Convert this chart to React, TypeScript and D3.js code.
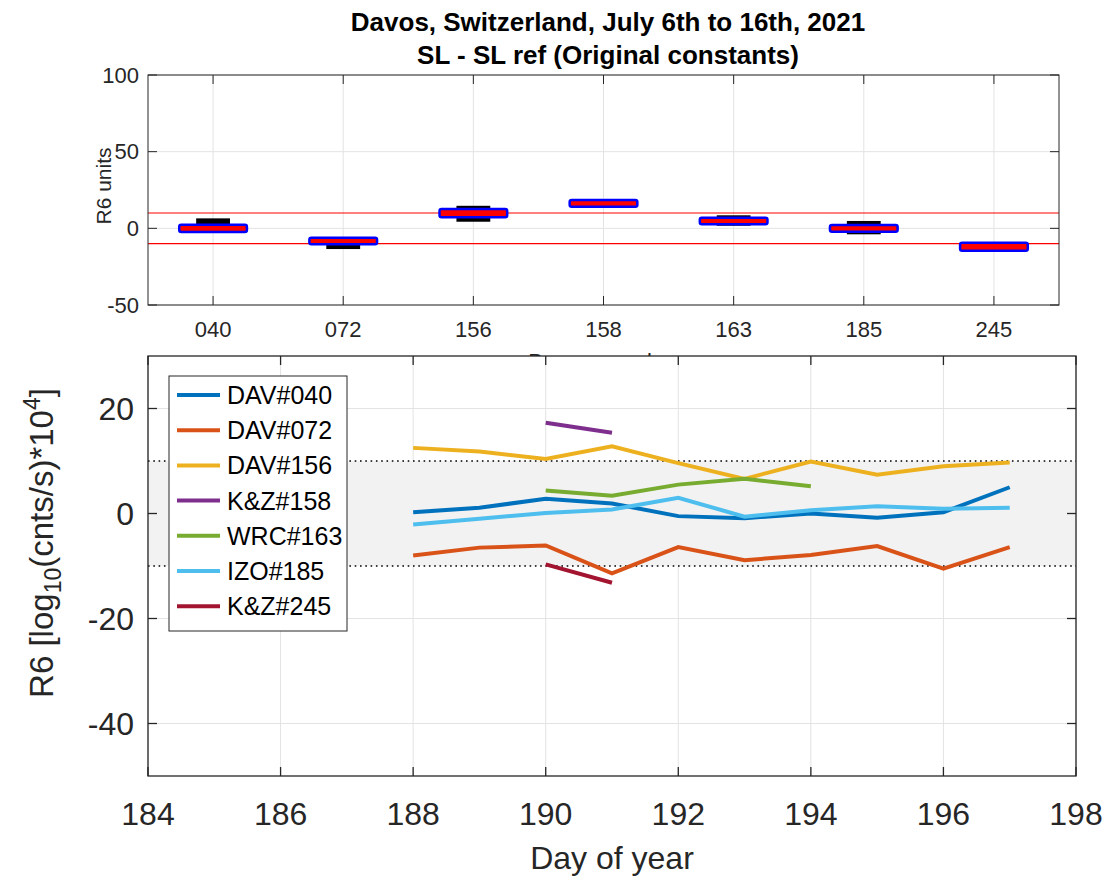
import React from "react";
import * as d3 from "d3";

// ---------- Top panel data ----------
const brewers = ["040", "072", "156", "158", "163", "185", "245"];
const boxLow = [-2.4, -10.4, 7.2, 14.1, 2.6, -2.2, -14.6];
const boxHigh = [2.4, -6.1, 12.6, 18.5, 6.9, 2.2, -9.4];
const barLow = [-1, -13.5, 4.3, 15, 1.7, -3.9, -13];
const barHigh = [6.5, -8, 14.7, 17, 8.5, 4.8, -10];
const topYTicks = [-50, 0, 50, 100];
const limitLines = [-10, 10];

// ---------- Bottom panel data ----------
const seriesNames = ["DAV#040", "DAV#072", "DAV#156", "K&Z#158", "WRC#163", "IZO#185", "K&Z#245"];
const seriesColors = ["#0072BD", "#D95319", "#EDB120", "#7E2F8E", "#77AC30", "#4DBEEE", "#A2142F"];
const daysFull = [188, 189, 190, 191, 192, 193, 194, 195, 196, 197];
const dav040 = [0.25, 1.1, 2.8, 1.9, -0.5, -0.9, 0, -0.8, 0.25, 5.0];
const dav072 = [-8.0, -6.5, -6.1, -11.4, -6.4, -8.9, -7.9, -6.2, -10.5, -6.4];
const dav156 = [12.5, 11.8, 10.4, 12.8, 9.6, 6.6, 9.9, 7.4, 9.0, 9.7];
const kz158Days = [190, 191];
const kz158 = [17.3, 15.4];
const wrc163Days = [190, 191, 192, 193, 194];
const wrc163 = [4.4, 3.4, 5.5, 6.6, 5.2];
const izo185 = [-2.1, -1.0, 0.1, 0.75, 3.0, -0.6, 0.6, 1.4, 0.9, 1.1];
const kz245Days = [190, 191];
const kz245 = [-9.7, -13.2];
const botXTicks = [184, 186, 188, 190, 192, 194, 196, 198];
const botYTicks = [-40, -20, 0, 20];

const FONT = "'Liberation Sans', Arial, Helvetica, sans-serif";
const AX = "#262626";
const GRID = "#e3e3e3";

export default function App() {
  // top scales
  const tx = d3.scaleBand<string>().domain(brewers).range([148, 1059]).paddingInner(0).paddingOuter(0);
  const bw = tx.bandwidth();
  const cx = (c: string) => (tx(c) as number) + bw / 2;
  const ty = d3.scaleLinear().domain([-50, 100]).range([305, 75]);

  // bottom scales
  const bx = d3.scaleLinear().domain([184, 198]).range([148, 1076]);
  const by = d3.scaleLinear().domain([-50, 30]).range([776, 356]);

  const seriesData: { days: number[]; vals: number[] }[] = [
    { days: daysFull, vals: dav040 },
    { days: daysFull, vals: dav072 },
    { days: daysFull, vals: dav156 },
    { days: kz158Days, vals: kz158 },
    { days: wrc163Days, vals: wrc163 },
    { days: daysFull, vals: izo185 },
    { days: kz245Days, vals: kz245 },
  ];
  const line = d3
    .line<[number, number]>()
    .x((d) => bx(d[0]))
    .y((d) => by(d[1]));

  const [tx0, tx1] = tx.range();
  const [ty0, ty1] = ty.range();
  const [bx0, bx1] = bx.range();
  const [by0, by1] = by.range();

  return (
    <svg width={1109} height={879} style={{ position: "absolute", left: 0, top: 0, background: "#fff" }} fontFamily={FONT}>
      <rect x={0} y={0} width={1109} height={879} fill="#fff" />
      {/* Title */}
      <text x={608} y={31} textAnchor="middle" fontSize={26} fontWeight="bold" fill="#000">
        Davos, Switzerland, July 6th to 16th, 2021
      </text>
      <text x={608} y={64} textAnchor="middle" fontSize={26} fontWeight="bold" fill="#000">
        SL - SL ref (Original constants)
      </text>

      {/* ---------- Top axes ---------- */}
      <rect x={tx0} y={ty1} width={tx1 - tx0} height={ty0 - ty1} fill="#fff" />
      {brewers.map((c) => (
        <line key={"gx" + c} x1={cx(c)} x2={cx(c)} y1={ty0} y2={ty1} stroke={GRID} strokeWidth={1} />
      ))}
      {topYTicks.map((t) => (
        <line key={"gy" + t} x1={tx0} x2={tx1} y1={ty(t)} y2={ty(t)} stroke={GRID} strokeWidth={1} />
      ))}
      {limitLines.map((v) => (
        <line key={"lim" + v} x1={tx0} x2={tx1} y1={ty(v)} y2={ty(v)} stroke="#ff0000" strokeWidth={1.2} />
      ))}
      {brewers.map((c, i) => (
        <g key={"box" + c}>
          <rect
            x={cx(c) - bw * 0.13}
            width={bw * 0.26}
            y={ty(barHigh[i])}
            height={ty(barLow[i]) - ty(barHigh[i])}
            fill="#000"
          />
          <rect
            x={cx(c) - bw * 0.26}
            width={bw * 0.52}
            y={ty(boxHigh[i])}
            height={ty(boxLow[i]) - ty(boxHigh[i])}
            fill="#ff0000"
            stroke="#0000ff"
            strokeWidth={2.5}
            rx={2}
          />
        </g>
      ))}
      {/* top axis box + ticks */}
      <rect x={tx0} y={ty1} width={tx1 - tx0} height={ty0 - ty1} fill="none" stroke={AX} strokeWidth={1} />
      {brewers.map((c) => (
        <g key={"tk" + c}>
          <line x1={cx(c)} x2={cx(c)} y1={ty0} y2={ty0 - 9} stroke={AX} />
          <line x1={cx(c)} x2={cx(c)} y1={ty1} y2={ty1 + 9} stroke={AX} />
          <text x={cx(c)} y={337} textAnchor="middle" fontSize={22} fill={AX}>
            {c}
          </text>
        </g>
      ))}
      {topYTicks.map((t) => (
        <g key={"tyk" + t}>
          <line x1={tx0} x2={tx0 + 9} y1={ty(t)} y2={ty(t)} stroke={AX} />
          <line x1={tx1} x2={tx1 - 9} y1={ty(t)} y2={ty(t)} stroke={AX} />
          <text x={139} y={ty(t)} dy="0.35em" textAnchor="end" fontSize={22} fill={AX}>
            {t}
          </text>
        </g>
      ))}
      <text transform={`translate(111,${(ty0 + ty1) / 2 - 4}) rotate(-90)`} textAnchor="middle" fontSize={21} fill={AX}>
        R6 units
      </text>
      <text x={(tx0 + tx1) / 2} y={369} textAnchor="middle" fontSize={22} fill={AX}>
        Brewer number
      </text>

      {/* ---------- Bottom axes ---------- */}
      <rect x={bx0} y={by1} width={bx1 - bx0} height={by0 - by1} fill="#fff" />
      {botXTicks.map((t) => (
        <line key={"bgx" + t} x1={bx(t)} x2={bx(t)} y1={by0} y2={by1} stroke={GRID} strokeWidth={1} />
      ))}
      {botYTicks.map((t) => (
        <line key={"bgy" + t} x1={bx0} x2={bx1} y1={by(t)} y2={by(t)} stroke={GRID} strokeWidth={1} />
      ))}
      <rect x={bx0} y={by(10)} width={bx1 - bx0} height={by(-10) - by(10)} fill="#f2f2f2" />
      {limitLines.map((v) => (
        <line
          key={"dot" + v}
          x1={bx0}
          x2={bx1}
          y1={by(v)}
          y2={by(v)}
          stroke="#000"
          strokeWidth={1.6}
          strokeDasharray="1.6 3.7"
        />
      ))}
      {seriesData.map((s, i) => (
        <path
          key={"ser" + i}
          d={line(s.days.map((d, j) => [d, s.vals[j]] as [number, number])) || ""}
          fill="none"
          stroke={seriesColors[i]}
          strokeWidth={4}
          strokeLinejoin="miter"
        />
      ))}
      <rect x={bx0} y={by1} width={bx1 - bx0} height={by0 - by1} fill="none" stroke={AX} strokeWidth={1.3} />
      {botXTicks.map((t) => (
        <g key={"bxt" + t}>
          <line x1={bx(t)} x2={bx(t)} y1={by0} y2={by0 - 9} stroke={AX} strokeWidth={1.3} />
          <line x1={bx(t)} x2={bx(t)} y1={by1} y2={by1 + 9} stroke={AX} strokeWidth={1.3} />
          <text x={bx(t)} y={825} textAnchor="middle" fontSize={32} fill={AX}>
            {t}
          </text>
        </g>
      ))}
      {botYTicks.map((t) => (
        <g key={"byt" + t}>
          <line x1={bx0} x2={bx0 + 9} y1={by(t)} y2={by(t)} stroke={AX} strokeWidth={1.3} />
          <line x1={bx1} x2={bx1 - 9} y1={by(t)} y2={by(t)} stroke={AX} strokeWidth={1.3} />
          <text x={134} y={by(t)} dy="0.35em" textAnchor="end" fontSize={32} fill={AX}>
            {t}
          </text>
        </g>
      ))}
      <text x={(bx0 + bx1) / 2} y={869} textAnchor="middle" fontSize={32} fill={AX}>
        Day of year
      </text>
      <text transform={`translate(53,543) rotate(-90)`} textAnchor="middle" fontSize={33} fill={AX}>
        R6 [log
        <tspan dy="8" fontSize={23}>10</tspan>
        <tspan dy="-8">(cnts/s)*10</tspan>
        <tspan dy="-13" fontSize={23}>4</tspan>
        <tspan dy="13">]</tspan>
      </text>

      {/* Legend */}
      <rect x={169} y={376} width={178} height={255} fill="#fff" stroke={AX} strokeWidth={1} />
      {seriesNames.map((n, i) => (
        <g key={"lg" + n}>
          <line x1={177} x2={220} y1={395 + i * 35.2} y2={395 + i * 35.2} stroke={seriesColors[i]} strokeWidth={4} />
          <text x={227} y={395 + i * 35.2} dy="0.36em" fontSize={25} fill="#000">
            {n}
          </text>
        </g>
      ))}
    </svg>
  );
}
